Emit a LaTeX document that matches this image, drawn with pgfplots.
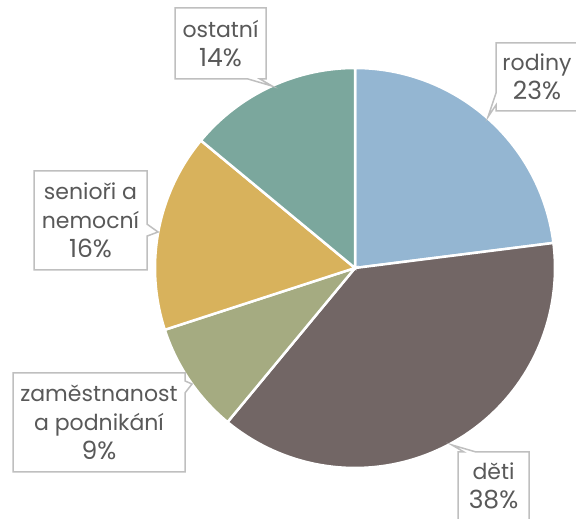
\documentclass[border=0pt]{standalone}
\usepackage{pgfplots}
\pgfplotsset{compat=1.18}
\usepackage{fontspec}
\setmainfont{Poppins}
\usetikzlibrary{shapes.callouts}
\definecolor{cRod}{HTML}{94B6D2}
\definecolor{cDet}{HTML}{726665}
\definecolor{cZam}{HTML}{A5AB81}
\definecolor{cSen}{HTML}{D8B25C}
\definecolor{cOst}{HTML}{7BA79D}
\definecolor{cTxt}{HTML}{595959}
\definecolor{cBox}{HTML}{BFBFBF}
\newcommand\pct[1]{{\fontsize{25}{29}\selectfont #1}}
% slice: start percent, end percent (cumulative), colour
\newcommand\slice[3]{%
  \addplot[fill=#3, draw=white, line width=2.5pt, samples=80,
    domain={90-3.6*(#2)}:{90-3.6*(#1)}]
    ({355+200*cos(x)},{251+200*sin(x)}) -- (axis cs:355,251) -- cycle;}
\begin{document}
\begin{tikzpicture}[
  lbl/.style={rectangle callout, draw=cBox, line width=1.5pt, fill=white,
    text=cTxt, align=center, inner sep=0pt, callout pointer width=12pt,
    font=\fontsize{22}{29}\selectfont}]
\begin{axis}[at={(0,0)}, anchor=south west, scale only axis,
  width=576pt, height=519pt, xmin=0, xmax=576, ymin=0, ymax=519,
  hide axis, clip=false]
% values: rodiny 23, děti 38, zaměstnanost 9, senioři 16, ostatní 14
\slice{0}{23}{cRod}
\slice{23}{61}{cDet}
\slice{61}{70}{cZam}
\slice{70}{86}{cSen}
\slice{86}{100}{cOst}
\node[lbl, callout absolute pointer={(axis cs:272,433)}, minimum width=91pt, minimum height=71pt] at (axis cs:220.5,475.5) {ostatní\\\pct{14\%}};
\node[lbl, callout absolute pointer={(axis cs:488,402)}, minimum width=82pt, minimum height=68pt] at (axis cs:537,442) {rodiny\\\pct{23\%}};
\node[lbl, callout absolute pointer={(axis cs:158,287)}, minimum width=113pt, minimum height=99pt] at (axis cs:90.5,298.5) {senioři a\\nemocní\\\pct{16\%}};
\node[lbl, callout absolute pointer={(axis cs:192,135)}, minimum width=172pt, minimum height=99pt] at (axis cs:99,96.5) {zaměstnanost\\a podnikání\\\pct{9\%}};
\node[lbl, callout absolute pointer={(axis cs:452,74)}, minimum width=71pt, minimum height=68pt] at (axis cs:493.5,33) {děti\\\pct{38\%}};
\end{axis}
\pgfresetboundingbox
\path (0,0) rectangle (576pt,519pt);
\end{tikzpicture}
\end{document}
